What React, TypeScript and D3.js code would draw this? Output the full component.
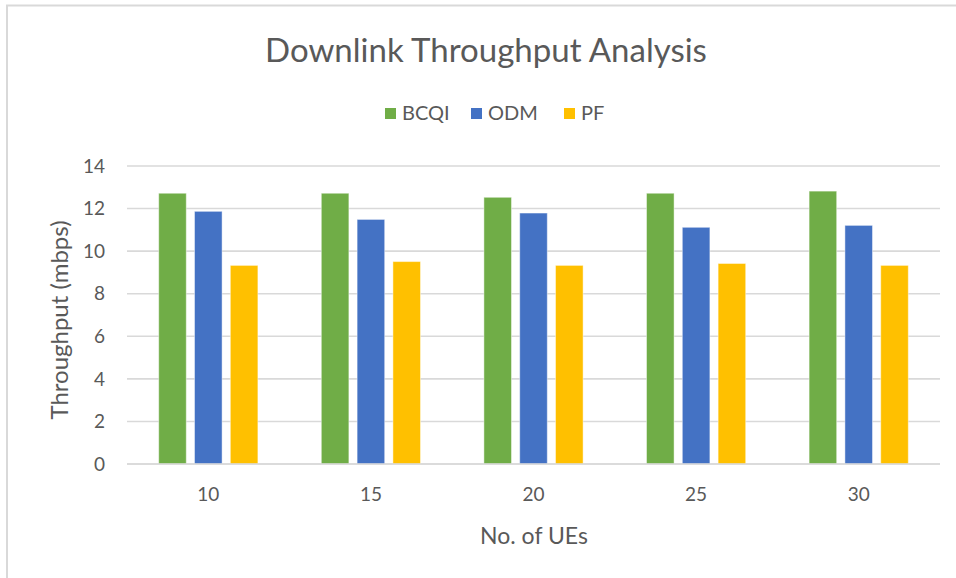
import React, { useRef, useEffect } from "react";
import * as d3 from "d3";

const categories = ["10", "15", "20", "25", "30"];
const seriesNames = ["BCQI", "ODM", "PF"];
const bcqi = [12.72, 12.72, 12.53, 12.72, 12.82];
const odm = [11.87, 11.49, 11.79, 11.12, 11.21];
const pf = [9.33, 9.51, 9.33, 9.42, 9.33];
const yTicks = [0, 2, 4, 6, 8, 10, 12, 14];
const colors = ["#70ad47", "#4472c4", "#ffc000"];

const W = 956;
const H = 578;

const App: React.FC = () => {
  const ref = useRef<SVGSVGElement | null>(null);

  useEffect(() => {
    const svg = d3.select(ref.current);
    svg.selectAll("*").remove();

    const font = "Lato, 'Open Sans', sans-serif";
    const textColor = "#595959";
    const plot = { left: 127, right: 940, top: 166, bottom: 464 };

    const values = [bcqi, odm, pf];
    const rows = categories.map((c, i) => ({
      cat: c,
      vals: seriesNames.map((s, k) => ({ name: s, value: values[k][i], color: colors[k] })),
    }));

    // background + chart border (only top/left visible in the crop)
    svg.append("rect").attr("width", W).attr("height", H).attr("fill", "#fff");
    svg
      .append("rect")
      .attr("x", 7)
      .attr("y", 5.5)
      .attr("width", W + 20)
      .attr("height", H + 20)
      .attr("fill", "none")
      .attr("stroke", "#d9d9d9")
      .attr("stroke-width", 2);

    const x0 = d3
      .scaleBand<string>()
      .domain(categories)
      .range([plot.left, plot.right])
      .paddingInner(0.39)
      .paddingOuter(0.195);

    const x1 = d3
      .scaleBand<string>()
      .domain(seriesNames)
      .range([0, x0.bandwidth()])
      .paddingInner(0.23)
      .paddingOuter(0);

    const y = d3.scaleLinear().domain([0, 14]).range([plot.bottom, plot.top]);

    // gridlines
    svg
      .append("g")
      .selectAll("line")
      .data(yTicks)
      .join("line")
      .attr("x1", plot.left)
      .attr("x2", plot.right)
      .attr("y1", (d) => y(d))
      .attr("y2", (d) => y(d))
      .attr("stroke", "#d9d9d9")
      .attr("stroke-width", 1.6);

    // y tick labels
    svg
      .append("g")
      .selectAll("text")
      .data(yTicks)
      .join("text")
      .attr("x", 105)
      .attr("y", (d) => y(d))
      .attr("dy", "0.35em")
      .attr("text-anchor", "end")
      .attr("font-family", font)
      .attr("font-size", 19)
      .attr("fill", textColor)
      .text((d) => d);

    // bars
    const groups = svg
      .append("g")
      .selectAll("g")
      .data(rows)
      .join("g")
      .attr("transform", (d) => `translate(${x0(d.cat)},0)`);

    groups
      .selectAll("rect")
      .data((d) => d.vals)
      .join("rect")
      .attr("x", (d) => x1(d.name) as number)
      .attr("y", (d) => y(d.value))
      .attr("width", x1.bandwidth())
      .attr("height", (d) => y(0) - y(d.value))
      .attr("fill", (d) => d.color)
      .attr("stroke", "#fff")
      .attr("stroke-opacity", 0.45)
      .attr("stroke-width", 1);

    // x axis line on top of bars
    svg
      .append("line")
      .attr("x1", plot.left)
      .attr("x2", plot.right)
      .attr("y1", y(0))
      .attr("y2", y(0))
      .attr("stroke", "#d9d9d9")
      .attr("stroke-width", 1.6);

    // x tick labels
    svg
      .append("g")
      .selectAll("text")
      .data(categories)
      .join("text")
      .attr("x", (d) => (x0(d) as number) + x0.bandwidth() / 2)
      .attr("y", 501)
      .attr("text-anchor", "middle")
      .attr("font-family", font)
      .attr("font-size", 19)
      .attr("fill", textColor)
      .text((d) => d);

    // axis titles
    svg
      .append("text")
      .attr("x", 534)
      .attr("y", 544)
      .attr("text-anchor", "middle")
      .attr("font-family", font)
      .attr("font-size", 23)
      .attr("fill", textColor)
      .text("No. of UEs");

    svg
      .append("text")
      .attr("transform", `translate(68,320) rotate(-90)`)
      .attr("text-anchor", "middle")
      .attr("font-family", font)
      .attr("font-size", 24)
      .attr("fill", textColor)
      .text("Throughput (mbps)");

    // title
    svg
      .append("text")
      .attr("x", 486)
      .attr("y", 62)
      .attr("text-anchor", "middle")
      .attr("font-family", font)
      .attr("font-size", 33)
      .attr("fill", textColor)
      .text("Downlink Throughput Analysis");

    // legend
    const legendX = [385, 471, 564];
    const legend = svg
      .append("g")
      .selectAll("g")
      .data(seriesNames)
      .join("g")
      .attr("transform", (d, i) => `translate(${legendX[i]},113)`);

    legend
      .append("rect")
      .attr("x", 0)
      .attr("y", -5)
      .attr("width", 11)
      .attr("height", 11)
      .attr("fill", (d, i) => colors[i]);

    legend
      .append("text")
      .attr("x", 17)
      .attr("y", 0)
      .attr("dy", "0.35em")
      .attr("font-family", font)
      .attr("font-size", 20)
      .attr("fill", textColor)
      .text((d) => d);
  }, []);

  return (
    <svg
      ref={ref}
      width={W}
      height={H}
      style={{ position: "absolute", left: 0, top: 0, display: "block" }}
    />
  );
};

export default App;
